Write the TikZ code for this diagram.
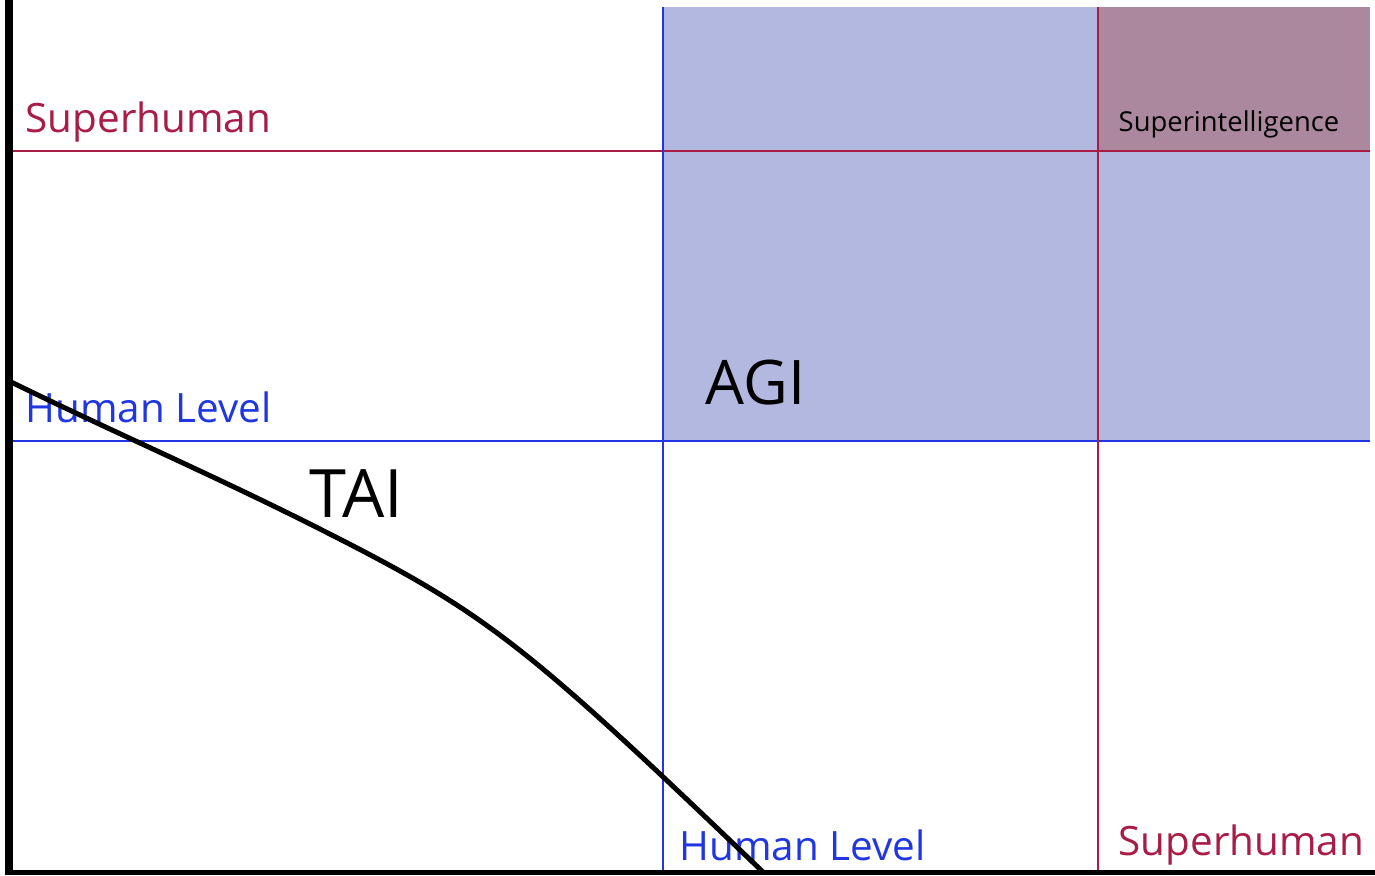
\documentclass[tikz,border=0pt]{standalone}
\usepackage{fontspec}
\setmainfont{Open Sans}
\usetikzlibrary{positioning}
\definecolor{LevelBlue}{HTML}{1F36E2}
\definecolor{SuperRed}{HTML}{A81C46}
\definecolor{AGIFill}{HTML}{B3B8E0}
\definecolor{ASIFill}{HTML}{AC889F}

\tikzset{
  bluerule/.style={LevelBlue,line width=0.02cm},
  redrule/.style={SuperRed,line width=0.02cm},
  axisrule/.style={black,line width=#1},
  label/.style={anchor=base west,inner sep=0pt,font=\fontsize{11.5}{14}\selectfont},
  biglabel/.style={anchor=base west,inner sep=0pt,text=black,font=\fontsize{#1}{20}\selectfont}
}

\begin{document}
\begin{tikzpicture}[x=1cm,y=1cm]
    \useasboundingbox (0,0) rectangle (13.75,8.75);
    % shaded regions
    \fill[AGIFill] (6.63,4.34) rectangle (13.70,8.68);
    \fill[ASIFill] (10.98,7.24) rectangle (13.70,8.68);

    % level rules
    \draw[redrule] (0.12,7.24) -- (13.70,7.24);
    \draw[bluerule] (0.12,4.34) -- (13.70,4.34);
    \draw[bluerule] (6.63,0.03) -- (6.63,8.68);
    \draw[redrule] (10.98,0.03) -- (10.98,8.68);

    % labels
    \node[label,text=SuperRed] (supery) at (0.25,7.42) {Superhuman};
    \node[label,text=LevelBlue] (humany) at (0.25,4.52) {Human Level};
    \node[label,text=LevelBlue] (humanx) at (6.79,0.15) {Human Level};
    \node[label,text=SuperRed] (superx) at (11.18,0.20) {Superhuman};
    \node[anchor=base west,inner sep=0pt,font=\fontsize{7.8}{9}\selectfont] (asi) at (11.18,7.43)
      {Superintelligence};
    \node[biglabel=17.5] (agi) at (7.05,4.70) {AGI};
    \node[biglabel=19] (tai) at (3.09,3.57) {TAI};

    % axes
    \draw[axisrule=0.08cm] (0.09,0) -- (0.09,8.75);
    \draw[axisrule=0.055cm] (0.05,0.025) -- (13.75,0.025);

    % frontier
    \draw[black,line width=0.05cm] (0.09,4.94)
      .. controls (1.09,4.45) and (2.08,4.02) .. (3.08,3.52)
      .. controls (4.85,2.63) and (5.17,2.39) .. (7.64,0.02);
\end{tikzpicture}
\end{document}
